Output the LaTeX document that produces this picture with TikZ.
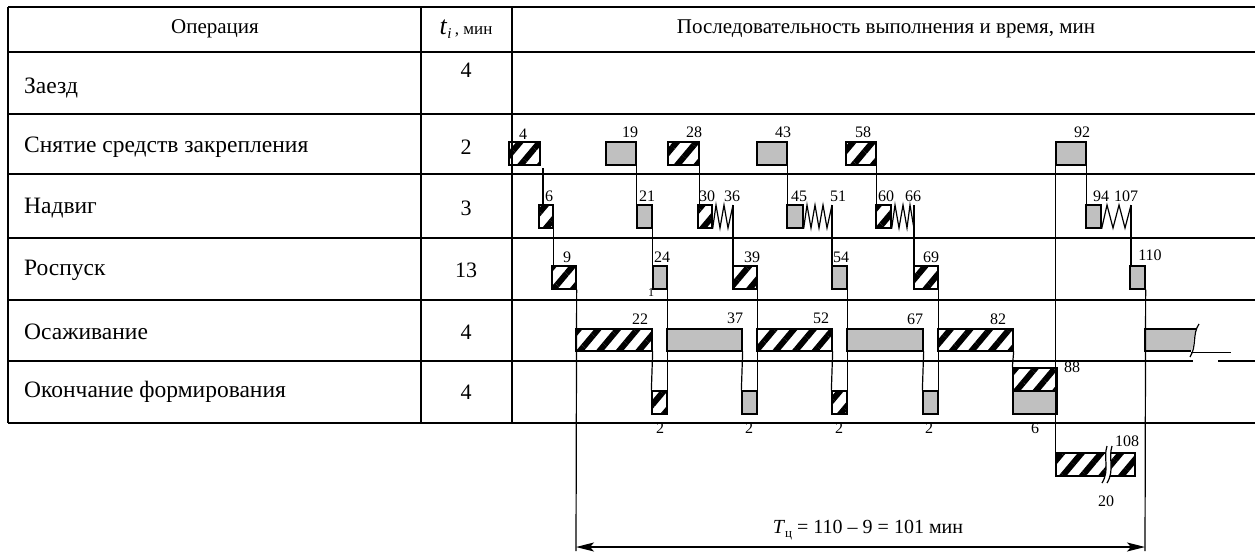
\documentclass[tikz,border=0pt]{standalone}
\usepackage{fontspec}
\setmainfont{Liberation Serif}
\usetikzlibrary{patterns.meta,fit,arrows.meta}
\definecolor{boxgray}{RGB}{192,192,192}
\begin{document}
\begin{tikzpicture}[x=1pt,y=-1pt,
  tbl/.style={line width=1.6pt},
  hb/.style={draw,line width=1.3pt,inner sep=0pt,pattern={Lines[angle=50,distance=15pt,line width=6pt]}},
  gb/.style={draw,line width=1.3pt,inner sep=0pt,fill=boxgray},
  conn/.style={line width=1.2pt},
  lbl/.style={inner sep=0pt,font=\fontsize{16}{16}\selectfont},
  rowtxt/.style={inner sep=0pt,anchor=west,font=\fontsize{23.5}{23.5}\selectfont},
  numtxt/.style={inner sep=0pt,font=\fontsize{22}{22}\selectfont},
  hdr/.style={inner sep=0pt,font=\fontsize{21}{21}\selectfont},
  dimarrow/.style={line width=1.2pt,{Stealth[length=18pt,width=9pt,inset=4pt]}-{Stealth[length=18pt,width=9pt,inset=4pt]}},
]
\useasboundingbox (0,0) rectangle (1255,552);

% ---------- table ----------
\foreach \yy in {7,52,114,174,238,300,423} \draw[tbl] (8,\yy) -- (1255,\yy);
\draw[tbl] (8,361) -- (1193,361);
\draw[tbl] (1218,361) -- (1255,361);
\foreach \xx in {8,421,512} \draw[tbl] (\xx,7) -- (\xx,423);

\node[hdr] (h1) at (215,29) {Операция};
\node[hdr] (h2) at (466,29) {{\fontsize{26}{26}\selectfont\textit{t}}\raisebox{-0.4ex}{\fontsize{15}{15}\selectfont\textit{i}}\,{\fontsize{17}{17}\selectfont, мин}};
\node[hdr] (h3) at (886,29) {Последовательность выполнения и время, мин};

\node[rowtxt] (t1) at (24,88) {Заезд};
\node[rowtxt] (t2) at (24,147) {Снятие средств закрепления};
\node[rowtxt] (t3) at (24,208) {Надвиг};
\node[rowtxt] (t4) at (24,270) {Роспуск};
\node[rowtxt] (t5) at (24,332) {Осаживание};
\node[rowtxt] (t6) at (24,392) {Окончание формирования};

\node[numtxt] (v1) at (466,70) {4};
\node[numtxt] (v2) at (466,147) {2};
\node[numtxt] (v3) at (466,208) {3};
\node[numtxt] (v4) at (466,270) {13};
\node[numtxt] (v5) at (466,332) {4};
\node[numtxt] (v6) at (466,392) {4};

% ---------- row: Снятие ----------
\node[hb, fit={(509,142)(540,165)}] (s4) {};
\node[gb, fit={(606,142)(636,165)}] (s19) {};
\node[hb, fit={(668,142)(699,165)}] (s28) {};
\node[gb, fit={(757,142)(787,165)}] (s43) {};
\node[hb, fit={(846,142)(876,165)}] (s58) {};
\node[gb, fit={(1056,142)(1086,165)}] (s92) {};

% ---------- row: Надвиг ----------
\node[hb, fit={(539,205)(553,228)}] (n6) {};
\node[gb, fit={(637,205)(652,228)}] (n21) {};
\node[hb, fit={(698,205)(712,228)}] (n30) {};
\node[gb, fit={(787,205)(803,228)}] (n45) {};
\node[hb, fit={(876,205)(891,228)}] (n60) {};
\node[gb, fit={(1086,205)(1101,228)}] (n94) {};

% ---------- row: Роспуск ----------
\node[hb, fit={(552,266)(576,289)}] (r9) {};
\node[gb, fit={(653,266)(667,289)}] (r24) {};
\node[hb, fit={(733,266)(757,289)}] (r39) {};
\node[gb, fit={(832,266)(847,289)}] (r54) {};
\node[hb, fit={(914,266)(938,289)}] (r69) {};
\node[gb, fit={(1130,266)(1145,289)}] (r110) {};

% ---------- row: Осаживание ----------
\node[hb, fit={(576,329)(652,351)}] (o22) {};
\node[gb, fit={(667,329)(742,351)}] (o37) {};
\node[hb, fit={(757,329)(832,351)}] (o52) {};
\node[gb, fit={(847,329)(923,351)}] (o67) {};
\node[hb, fit={(938,329)(1013,351)}] (o82) {};
% broken bar after 110
\fill[boxgray] (1145,329) -- (1196,329) .. controls (1192,338) and (1195,344) .. (1191,351) -- (1145,351) -- cycle;
\draw[line width=1.3pt] (1196,329) -- (1145,329) -- (1145,351) -- (1191,351);
\draw[conn] (1199,324) .. controls (1192,334) and (1197,346) .. (1190,357);
\draw[line width=0.8pt] (1191,352) -- (1231,352);

% ---------- row: Окончание ----------
\node[hb, fit={(652,391)(667,414)}] (f1) {};
\node[gb, fit={(742,391)(757,414)}] (f2) {};
\node[hb, fit={(832,391)(847,414)}] (f3) {};
\node[gb, fit={(923,391)(938,414)}] (f4) {};
\node[hb, fit={(1013,368)(1057,391)}] (f5a) {};
\node[gb, fit={(1013,391)(1057,414)}] (f5b) {};

% ---------- lower box 108 with break ----------
\node[hb, fit={(1056,453)(1135,476)}] (b108) {};
\fill[white] (1107,446) .. controls (1103,458) and (1110,470) .. (1102,483) -- (1107,483) .. controls (1115,470) and (1108,458) .. (1112,446) -- cycle;
\draw[conn] (1107,446) .. controls (1103,458) and (1110,470) .. (1102,483);
\draw[conn] (1112,446) .. controls (1108,458) and (1115,470) .. (1107,483);

% ---------- zigzags (waiting) ----------
\coordinate (z36) at (733,205);
\coordinate (z51) at (832,205);
\coordinate (z66) at (914,205);
\coordinate (z107) at (1131,205);
\draw[conn,line join=miter] (n30.south east) -- (716,205) -- (720,228) -- (724,205) -- (728,228) -- (z36);
\draw[conn,line join=miter] (n45.south east) -- (807,205) -- (811,228) -- (815,205) -- (819,228) -- (823,205) -- (827,228) -- (z51);
\draw[conn,line join=miter] (n60.south east) -- (895,205) -- (899,228) -- (903,205) -- (907,228) -- (910,205) -- (z66 |- n60.south) -- (z66);
\draw[conn,line join=miter] (n94.south east) -- (1107,205) -- (1113,228) -- (1119,205) -- (1125,228) -- (z107);

% ---------- connectors ----------
\coordinate (vL) at (576,551);
\coordinate (vR) at (1145,551);
\draw[conn] (s4.south east) -- (s4.south east |- n6.north);
\draw[conn] (n6.south east) -- (n6.south east |- r9.north);
\draw[conn] (r9.south east) -- (vL);
\draw[conn] (s19.south east) -- (s19.south east |- n21.north);
\draw[conn] (n21.south east) -- (n21.south east |- r24.north);
\draw[conn] (o22.south east) -- (f1.north west);
\draw[conn] (r24.south east) -- (f1.north east);
\draw[conn] (s28.south east) -- (s28.south east |- n30.north);
\draw[conn] (z36) -- (z36 |- r39.north);
\draw[conn] (o37.south east) -- (f2.north west);
\draw[conn] (r39.south east) -- (f2.north east);
\draw[conn] (s43.south east) -- (s43.south east |- n45.north);
\draw[conn] (z51) -- (z51 |- r54.north);
\draw[conn] (o52.south east) -- (f3.north west);
\draw[conn] (r54.south east) -- (f3.north east);
\draw[conn] (s58.south east) -- (s58.south east |- n60.north);
\draw[conn] (z66) -- (z66 |- r69.north);
\draw[conn] (o67.south east) -- (f4.north west);
\draw[conn] (r69.south east) -- (f4.north east);
\draw[conn] (o82.south east) -- (f5a.north west);
\draw[conn] (s92.south west) -- (s92.south west |- b108.north);
\draw[conn] (s92.south east) -- (s92.south east |- n94.north);
\draw[conn] (z107) -- (z107 |- r110.north);
\draw[conn] (r110.south east) -- (vR);

% ---------- dimension ----------
\coordinate (aL) at (576,547);
\coordinate (aR) at (1145,547);
\draw[dimarrow] (aL) -- (aR);
\node[inner sep=0pt,font=\fontsize{20}{20}\selectfont] (tc) at (868,530) {\textit{T}\raisebox{-0.4ex}{\fontsize{13}{13}\selectfont ц} = 110 – 9 = 101 мин};

% ---------- labels ----------
\node[lbl] (l4) at (523,134) {4};
\node[lbl] (l19) at (630,132) {19};
\node[lbl] (l28) at (694,132) {28};
\node[lbl] (l43) at (783,132) {43};
\node[lbl] (l58) at (863,132) {58};
\node[lbl] (l92) at (1082,132) {92};

\node[lbl] (l6) at (549,196) {6};
\node[lbl] (l21) at (647,196) {21};
\node[lbl] (l30) at (707,196) {30};
\node[lbl] (l36) at (732,196) {36};
\node[lbl] (l45) at (799,196) {45};
\node[lbl] (l51) at (838,196) {51};
\node[lbl] (l60) at (886,196) {60};
\node[lbl] (l66) at (913,196) {66};
\node[lbl] (l94) at (1101,196) {94};
\node[lbl] (l107) at (1126,196) {107};

\node[lbl] (l9) at (567,257) {9};
\node[lbl] (l24) at (662,257) {24};
\node[lbl] (l39) at (752,257) {39};
\node[lbl] (l54) at (841,257) {54};
\node[lbl] (l69) at (931,257) {69};
\node[lbl] (l110) at (1150,255) {110};
\node[inner sep=0pt,font=\fontsize{12}{12}\selectfont] (lone) at (651,293) {1};

\node[lbl] (l22) at (640,319) {22};
\node[lbl] (l37) at (735,318) {37};
\node[lbl] (l52) at (821,318) {52};
\node[lbl] (l67) at (915,319) {67};
\node[lbl] (l82) at (998,319) {82};
\node[lbl] (l88) at (1072,367) {88};

\node[lbl] (d1) at (660,428) {2};
\node[lbl] (d2) at (749,428) {2};
\node[lbl] (d3) at (839,428) {2};
\node[lbl] (d4) at (929,428) {2};
\node[lbl] (d5) at (1035,428) {6};
\node[lbl] (l108) at (1127,441) {108};
\node[lbl] (l20) at (1106,501) {20};
\end{tikzpicture}
\end{document}
